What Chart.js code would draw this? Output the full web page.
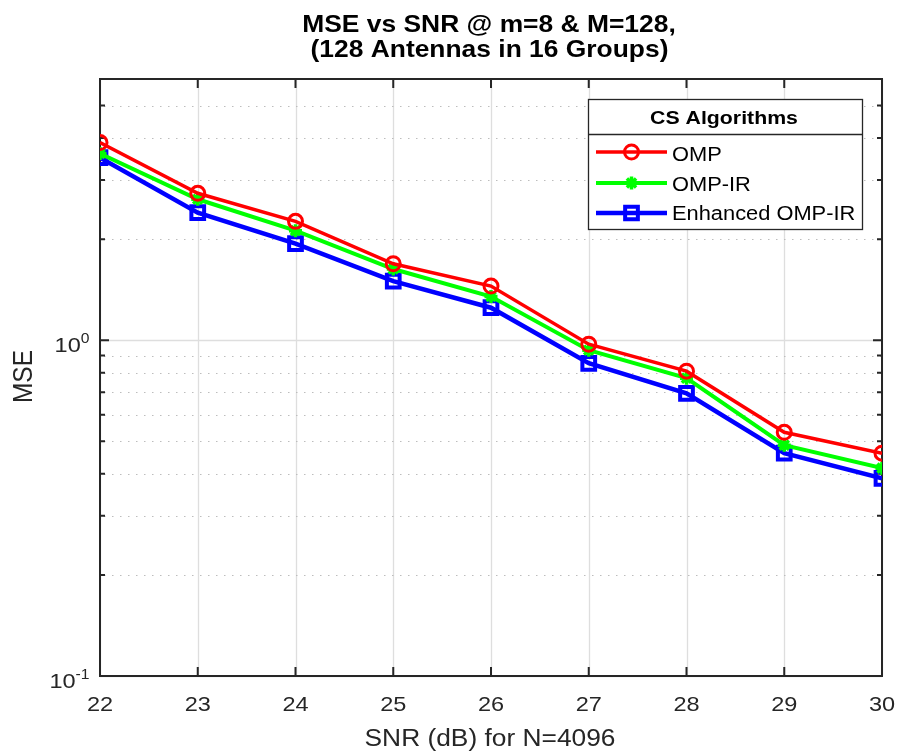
<!DOCTYPE html>
<html>
<head>
<meta charset="utf-8">
<script src="https://cdn.jsdelivr.net/npm/chart.js@4.4.1/dist/chart.umd.min.js"></script>
<style>
  html, body { margin: 0; padding: 0; background: #ffffff; }
  #wrap { width: 898px; height: 752px; }
</style>
</head>
<body>
<div id="wrap"><canvas id="c" width="898" height="752"></canvas></div>
<script>
// ---------------- data ----------------
const snrDb = [22, 23, 24, 25, 26, 27, 28, 29, 30];
const mseOMP = [3.88, 2.74, 2.26, 1.69, 1.45, 0.973, 0.809, 0.532, 0.461];
const mseOMPIR = [3.60, 2.63, 2.12, 1.63, 1.35, 0.934, 0.771, 0.487, 0.416];
const mseEnhanced = [3.50, 2.40, 1.94, 1.50, 1.25, 0.854, 0.695, 0.461, 0.388];
const seriesNames = ['OMP', 'OMP-IR', 'Enhanced OMP-IR'];
const xTickValues = [22, 23, 24, 25, 26, 27, 28, 29, 30];
const yMajorTicks = [0.1, 1];
const yMajorLabels = [['10', '-1'], ['10', '0']];
const yMinorTicks = [0.2, 0.3, 0.4, 0.5, 0.6, 0.7, 0.8, 0.9, 2, 3, 4, 5, 6];
const titleLines = ['MSE vs SNR @ m=8 & M=128,', '(128 Antennas in 16 Groups)'];
const xTitle = 'SNR (dB) for N=4096';
const yTitle = 'MSE';
const legendTitle = 'CS Algorithms';

const FAMILY = "'Liberation Sans', Arial, Helvetica, sans-serif";
const SX = 1.12;          // horizontal stretch of the reference text
const AXIS_COLOR = '#262626';

function pts(ys) { return snrDb.map((x, i) => ({ x: x, y: ys[i] })); }

function txt(ctx, s, x, y, font, align, color, sx) {
  ctx.save();
  ctx.font = font;
  ctx.fillStyle = color;
  ctx.textBaseline = 'alphabetic';
  ctx.textAlign = align;
  ctx.translate(x, y);
  ctx.scale(sx, 1);
  ctx.fillText(s, 0, 0);
  ctx.restore();
}

function drawMarker(ctx, style, x, y, r, color, bw) {
  ctx.save();
  ctx.strokeStyle = color;
  ctx.lineWidth = bw;
  ctx.beginPath();
  if (style === 'circle') {
    ctx.arc(x, y, r, 0, Math.PI * 2);
  } else if (style === 'rect') {
    const s = Math.SQRT1_2 * r;
    ctx.rect(x - s, y - s, 2 * s, 2 * s);
  } else if (style === 'star') {
    for (let k = 0; k < 4; k++) {
      const a = k * Math.PI / 4;
      ctx.moveTo(x - Math.cos(a) * r, y - Math.sin(a) * r);
      ctx.lineTo(x + Math.cos(a) * r, y + Math.sin(a) * r);
    }
  }
  ctx.stroke();
  ctx.restore();
}

const matlabAxes = {
  id: 'matlabAxes',
  beforeDatasetsDraw(chart) {
    const ctx = chart.ctx;
    const a = chart.chartArea;
    const xs = chart.scales.x, ys = chart.scales.y;
    ctx.save();
    // vertical major grid
    ctx.strokeStyle = '#dedede';
    ctx.lineWidth = 1.3;
    xTickValues.forEach(v => {
      const px = Math.round(xs.getPixelForValue(v)) + 0.5;
      ctx.beginPath(); ctx.moveTo(px, a.top); ctx.lineTo(px, a.bottom); ctx.stroke();
    });
    yMajorTicks.forEach(v => {
      const py = Math.round(ys.getPixelForValue(v)) + 0.5;
      ctx.beginPath(); ctx.moveTo(a.left, py); ctx.lineTo(a.right, py); ctx.stroke();
    });
    // minor dotted grid
    ctx.strokeStyle = '#bdbdbd';
    ctx.lineWidth = 1.2;
    ctx.setLineDash([1.5, 6.5]);
    yMinorTicks.forEach(v => {
      const py = Math.round(ys.getPixelForValue(v)) + 0.5;
      ctx.beginPath(); ctx.moveTo(a.left + 4, py); ctx.lineTo(a.right, py); ctx.stroke();
    });
    ctx.setLineDash([]);
    // box
    ctx.strokeStyle = AXIS_COLOR;
    ctx.lineWidth = 2;
    ctx.strokeRect(a.left, a.top, a.right - a.left, a.bottom - a.top);
    // tick marks (inward, mirrored)
    ctx.lineWidth = 2;
    xTickValues.forEach(v => {
      const px = xs.getPixelForValue(v);
      ctx.beginPath();
      ctx.moveTo(px, a.bottom); ctx.lineTo(px, a.bottom - 9);
      ctx.moveTo(px, a.top); ctx.lineTo(px, a.top + 9);
      ctx.stroke();
    });
    yMajorTicks.forEach(v => {
      const py = ys.getPixelForValue(v);
      ctx.beginPath();
      ctx.moveTo(a.left, py); ctx.lineTo(a.left + 9, py);
      ctx.moveTo(a.right, py); ctx.lineTo(a.right - 9, py);
      ctx.stroke();
    });
    yMinorTicks.forEach(v => {
      const py = ys.getPixelForValue(v);
      ctx.beginPath();
      ctx.moveTo(a.left, py); ctx.lineTo(a.left + 5, py);
      ctx.moveTo(a.right, py); ctx.lineTo(a.right - 5, py);
      ctx.stroke();
    });
    ctx.restore();
  },
  afterDatasetsDraw(chart) {
    const ctx = chart.ctx;
    // legend box
    const L = 588, T = 99, R = 862, B = 229, SEP = 134;
    ctx.save();
    ctx.fillStyle = '#ffffff';
    ctx.fillRect(L, T, R - L, B - T);
    ctx.strokeStyle = AXIS_COLOR;
    ctx.lineWidth = 1.3;
    ctx.strokeRect(L + 0.5, T + 0.5, R - L, B - T);
    ctx.beginPath(); ctx.moveTo(L, SEP + 0.5); ctx.lineTo(R, SEP + 0.5); ctx.stroke();
    ctx.restore();
    txt(ctx, legendTitle, 724, 124, 'bold 19px ' + FAMILY, 'center', '#000000', SX);
    const rowY = [152, 183, 213];
    const textBase = [160.5, 190.5, 220];
    chart.data.datasets.forEach((ds, i) => {
      const y = rowY[i];
      ctx.save();
      ctx.strokeStyle = ds.borderColor;
      ctx.lineWidth = ds.borderWidth;
      ctx.beginPath(); ctx.moveTo(596, y); ctx.lineTo(667, y); ctx.stroke();
      ctx.restore();
      drawMarker(ctx, ds.pointStyle, 631.5, y, ds.pointRadius, ds.borderColor, ds.pointBorderWidth);
      txt(ctx, ds.label, 672, textBase[i], '19.5px ' + FAMILY, 'left', '#000000', SX);
    });
  },
  afterDraw(chart) {
    const ctx = chart.ctx;
    const xs = chart.scales.x, ys = chart.scales.y;
    // title
    txt(ctx, titleLines[0], 489, 32, 'bold 24px ' + FAMILY, 'center', '#000000', 1.1);
    txt(ctx, titleLines[1], 489.5, 56.5, 'bold 24px ' + FAMILY, 'center', '#000000', 1.1);
    // x tick labels
    xTickValues.forEach(v => {
      txt(ctx, String(v), xs.getPixelForValue(v), 710.5, '21px ' + FAMILY, 'center', AXIS_COLOR, SX);
    });
    // x title
    txt(ctx, xTitle, 490, 746, '23.5px ' + FAMILY, 'center', AXIS_COLOR, SX);
    // y tick labels (10^k)
    yMajorTicks.forEach((v, i) => {
      const py = ys.getPixelForValue(v);
      const base = yMajorLabels[i][0], sup = yMajorLabels[i][1];
      ctx.save();
      ctx.font = '14px ' + FAMILY;
      const ws = ctx.measureText(sup).width * SX;
      ctx.restore();
      const rightEdge = 89.5;
      txt(ctx, sup, rightEdge - ws, py + 3, '14px ' + FAMILY, 'left', AXIS_COLOR, SX);
      txt(ctx, base, rightEdge - ws, py + 12, '21px ' + FAMILY, 'right', AXIS_COLOR, SX);
    });
    // y title (rotated)
    ctx.save();
    ctx.translate(31.5, 376.5);
    ctx.rotate(-Math.PI / 2);
    ctx.scale(1, SX);
    ctx.font = '24.5px ' + FAMILY;
    ctx.fillStyle = AXIS_COLOR;
    ctx.textAlign = 'center';
    ctx.textBaseline = 'alphabetic';
    ctx.fillText(yTitle, 0, 0);
    ctx.restore();
  }
};

new Chart(document.getElementById('c').getContext('2d'), {
  type: 'line',
  data: {
    datasets: [
      {
        label: seriesNames[0], data: pts(mseOMP),
        borderColor: '#ff0000', borderWidth: 3.5,
        pointStyle: 'circle', pointRadius: 7, pointBorderWidth: 3,
        pointBackgroundColor: 'rgba(0,0,0,0)', pointBorderColor: '#ff0000', tension: 0
      },
      {
        label: seriesNames[1], data: pts(mseOMPIR),
        borderColor: '#00ff00', borderWidth: 4,
        pointStyle: 'star', pointRadius: 6.5, pointBorderWidth: 3.5,
        pointBackgroundColor: 'rgba(0,0,0,0)', pointBorderColor: '#00ff00', tension: 0
      },
      {
        label: seriesNames[2], data: pts(mseEnhanced),
        borderColor: '#0000ff', borderWidth: 4.5,
        pointStyle: 'rect', pointRadius: 9, pointBorderWidth: 4,
        pointBackgroundColor: 'rgba(0,0,0,0)', pointBorderColor: '#0000ff', tension: 0
      }
    ]
  },
  options: {
    responsive: false,
    animation: false,
    events: [],
    layout: { padding: { top: 79, right: 16, left: 0, bottom: 0 } },
    plugins: { legend: { display: false }, title: { display: false }, tooltip: { enabled: false } },
    scales: {
      x: {
        type: 'linear', min: 22, max: 30,
        ticks: { display: false, stepSize: 1 },
        grid: { display: false }, border: { display: false },
        afterFit(s) { s.height = 76; }
      },
      y: {
        type: 'logarithmic', min: 0.1, max: 6,
        ticks: { display: false },
        grid: { display: false }, border: { display: false },
        afterFit(s) { s.width = 100; }
      }
    }
  },
  plugins: [matlabAxes]
});
</script>
</body>
</html>
